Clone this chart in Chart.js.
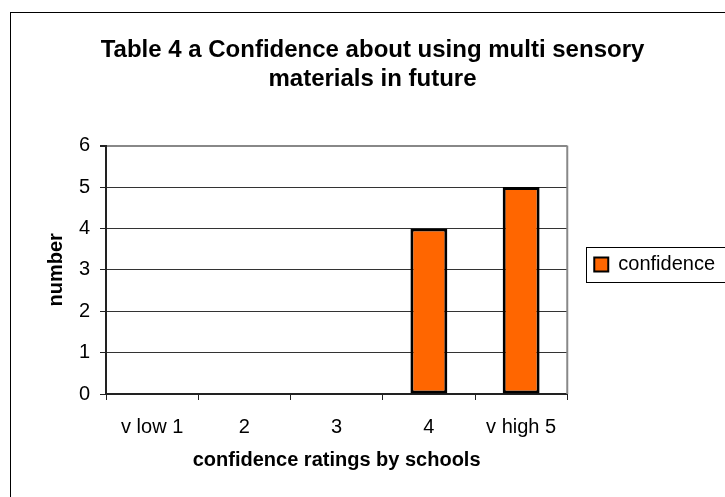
<!DOCTYPE html>
<html>
<head>
<meta charset="utf-8">
<script src="https://cdn.jsdelivr.net/npm/chart.js@4"></script>
<style>
  html, body { margin: 0; padding: 0; background: #fff; }
</style>
</head>
<body>
<canvas id="chart" width="725" height="497"></canvas>
<script>
// data
const categories = ['v low 1', '2', '3', '4', 'v high 5'];
const confidenceCounts = [0, 0, 0, 4, 5];
const yTickValues = [0, 1, 2, 3, 4, 5, 6];
const seriesName = 'confidence';
const chartTitle = ['Table 4 a Confidence about using multi sensory', 'materials in future'];
const xTitle = 'confidence ratings by schools';
const yTitle = 'number';

const FONT = "'Liberation Sans', Arial, sans-serif";

// white page, outer frame, gray plot border and the legend box
const decorations = {
    id: 'decorations',
    beforeDraw(chart) {
        const ctx = chart.ctx;
        ctx.save();
        ctx.fillStyle = '#fff';
        ctx.fillRect(0, 0, chart.width, chart.height);
        ctx.strokeStyle = '#000';
        ctx.lineWidth = 1;
        ctx.strokeRect(10.5, 12.5, 720, 520);
        ctx.restore();
    },
    afterDraw(chart) {
        const ctx = chart.ctx;
        const area = chart.chartArea;
        ctx.save();
        ctx.strokeStyle = '#888';
        ctx.lineWidth = 2;
        ctx.beginPath();
        ctx.moveTo(area.right, area.top);
        ctx.lineTo(area.right, area.bottom);
        ctx.stroke();

        const hb = chart.legend.legendHitBoxes[0];
        if (hb) {
            const midY = hb.top + hb.height / 2;
            ctx.strokeStyle = '#000';
            ctx.lineWidth = 1;
            ctx.strokeRect(Math.round(hb.left - 8) + 0.5, Math.round(midY - 17.5) + 0.5, 140, 35);
        }
        ctx.restore();
    }
};

new Chart(document.getElementById('chart'), {
    type: 'bar',
    data: {
        labels: categories,
        datasets: [{
            label: seriesName,
            data: confidenceCounts,
            backgroundColor: '#FF6600',
            borderColor: '#000',
            borderWidth: 3,
            borderSkipped: false,
            barPercentage: 0.4,
            categoryPercentage: 1.0
        }]
    },
    options: {
        responsive: false,
        animation: false,
        layout: { padding: { top: 32, left: 20, right: 0, bottom: 0 } },
        plugins: {
            title: {
                display: true,
                text: chartTitle,
                color: '#000',
                font: { family: FONT, size: 24, weight: 'bold', lineHeight: 1.2 },
                padding: { top: 4, bottom: 52 }
            },
            legend: {
                position: 'right',
                labels: {
                    color: '#000',
                    font: { family: FONT, size: 20 },
                    boxWidth: 14,
                    boxHeight: 14,
                    padding: 27,
                    generateLabels(chart) {
                        return Chart.defaults.plugins.legend.labels.generateLabels(chart)
                            .map(l => Object.assign(l, { lineWidth: 2 }));
                    }
                },
                afterFit(legend) { legend.width = 161; }
            },
            tooltip: { enabled: false }
        },
        scales: {
            x: {
                type: 'category',
                grid: {
                    offset: true,
                    drawOnChartArea: false,
                    tickLength: 6,
                    color: '#222',
                    tickColor: '#222'
                },
                border: { color: '#222', width: 2 },
                ticks: {
                    color: '#000',
                    font: { family: FONT, size: 20 },
                    padding: 15,
                    maxRotation: 0
                },
                title: {
                    display: true,
                    text: xTitle,
                    color: '#000',
                    font: { family: FONT, size: 20, weight: 'bold' },
                    padding: { top: 0, bottom: 25 }
                },
                afterFit(scale) { scale.height = 103; }
            },
            y: {
                min: 0,
                max: 6,
                grid: {
                    tickLength: 6,
                    color: ctx => (ctx.tick && ctx.tick.value === 6) ? '#888' : '#333',
                    lineWidth: ctx => (ctx.tick && ctx.tick.value === 6) ? 2 : 1,
                    tickColor: '#222'
                },
                border: { color: '#222', width: 2 },
                ticks: {
                    color: '#000',
                    font: { family: FONT, size: 20 },
                    padding: 10
                },
                afterBuildTicks(scale) {
                    scale.ticks = yTickValues.map(v => ({ value: v }));
                },
                title: {
                    display: true,
                    text: yTitle,
                    color: '#000',
                    font: { family: FONT, size: 20, weight: 'bold' },
                    padding: { top: 24, bottom: 0 }
                },
                afterFit(scale) { scale.width = 86; }
            }
        }
    },
    plugins: [decorations]
});
</script>
</body>
</html>
